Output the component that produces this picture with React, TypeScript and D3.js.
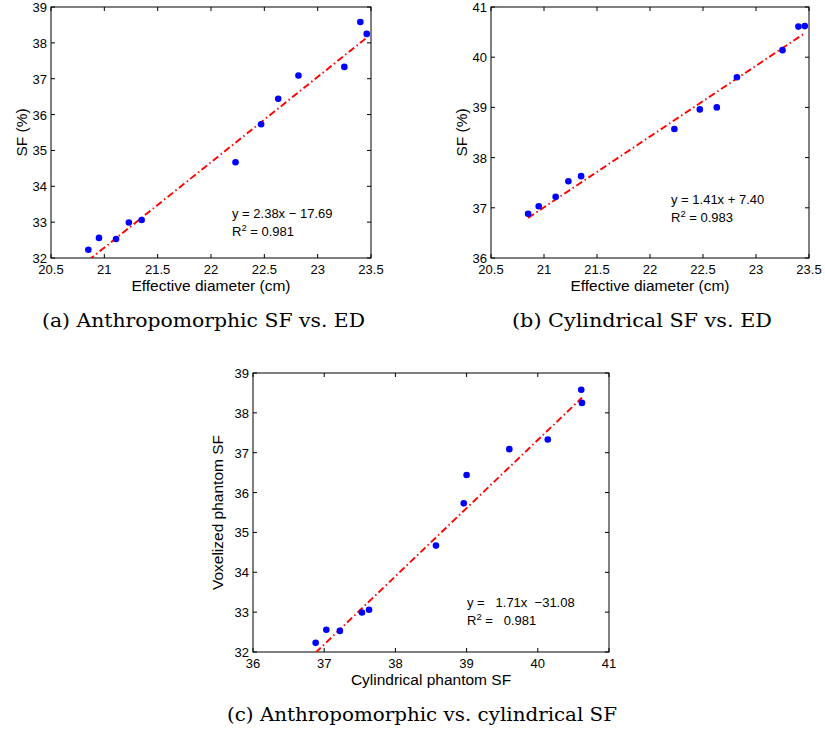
import React from "react";
import * as d3 from "d3";

// effective diameter (cm) of each phantom
const ED = [20.85, 20.95, 21.11, 21.23, 21.35, 22.23, 22.47, 22.63, 22.82, 23.25, 23.4, 23.46];
// scatter fraction (%) of the voxelized / anthropomorphic phantoms
const ANTHRO_SF = [32.23, 32.56, 32.53, 32.99, 33.06, 34.67, 35.73, 36.44, 37.09, 37.33, 38.58, 38.25];
// scatter fraction (%) of the cylindrical phantoms
const CYL_SF = [36.88, 37.03, 37.22, 37.53, 37.63, 38.57, 38.96, 39.0, 39.6, 40.14, 40.61, 40.62];

const ED_TICKS = [20.5, 21, 21.5, 22, 22.5, 23, 23.5];
const A_Y_TICKS = [32, 33, 34, 35, 36, 37, 38, 39];
const B_Y_TICKS = [36, 37, 38, 39, 40, 41];
const C_X_TICKS = [36, 37, 38, 39, 40, 41];

const FITS = {
  a: { slope: 2.38, intercept: -17.69 },
  b: { slope: 1.41, intercept: 7.4 },
  c: { slope: 1.71, intercept: -31.08 },
};

const SANS = "'Liberation Sans', Arial, Helvetica, sans-serif";
const SERIF = "'DejaVu Serif', 'Liberation Serif', serif";

type PanelProps = {
  id: string;
  left: number;
  top: number;
  width: number;
  height: number;
  xs: number[];
  ys: number[];
  xDomain: [number, number];
  yDomain: [number, number];
  xTicks: number[];
  yTicks: number[];
  xLabel: string;
  yLabel: string;
  yLabelX: number;
  fit: { slope: number; intercept: number };
  eq: string;
  r2: string;
  eqX: number;
  eqY: number;
};

function Panel(p: PanelProps) {
  const x = d3.scaleLinear().domain(p.xDomain).range([0, p.width]);
  const y = d3.scaleLinear().domain(p.yDomain).range([p.height, 0]);
  const x0 = d3.min(p.xs) as number;
  const x1 = d3.max(p.xs) as number;
  const fitLine = d3
    .line<number>()
    .x((d) => x(d))
    .y((d) => y(p.fit.slope * d + p.fit.intercept))([x0, x1]);
  const tick = 4;
  const fmt = (v: number) => String(v);

  return (
    <g transform={`translate(${p.left},${p.top})`}>
      <defs>
        <clipPath id={`clip-${p.id}`}>
          <rect x={0} y={0} width={p.width} height={p.height} />
        </clipPath>
      </defs>
      <rect x={0} y={0} width={p.width} height={p.height} fill="white" stroke="black" strokeWidth={1} />
      {p.xTicks.map((t) => (
        <g key={"x" + t}>
          <line x1={x(t)} x2={x(t)} y1={p.height} y2={p.height - tick} stroke="black" />
          <line x1={x(t)} x2={x(t)} y1={0} y2={tick} stroke="black" />
          <text x={x(t)} y={p.height + 16} textAnchor="middle" fontSize={13} fontFamily={SANS}>
            {fmt(t)}
          </text>
        </g>
      ))}
      {p.yTicks.map((t) => (
        <g key={"y" + t}>
          <line x1={0} x2={tick} y1={y(t)} y2={y(t)} stroke="black" />
          <line x1={p.width} x2={p.width - tick} y1={y(t)} y2={y(t)} stroke="black" />
          <text x={-4} y={y(t) + 5} textAnchor="end" fontSize={13} fontFamily={SANS}>
            {fmt(t)}
          </text>
        </g>
      ))}
      <g clipPath={`url(#clip-${p.id})`}>
        <path d={fitLine ?? ""} fill="none" stroke="#ff0000" strokeWidth={1.9} strokeDasharray="7,3,1.5,3" />
      </g>
      {p.xs.map((xv, i) => (
        <circle key={i} cx={x(xv)} cy={y(p.ys[i])} r={3.3} fill="#0000ff" />
      ))}
      <text x={p.width / 2} y={p.height + 33} textAnchor="middle" fontSize={15.5} fontFamily={SANS}>
        {p.xLabel}
      </text>
      <text
        transform={`translate(${p.yLabelX},${p.height / 2}) rotate(-90)`}
        textAnchor="middle"
        fontSize={15.5}
        fontFamily={SANS}
      >
        {p.yLabel}
      </text>
      <text x={p.eqX} y={p.eqY} fontSize={13} fontFamily={SANS} style={{ whiteSpace: "pre" }}>
        {p.eq}
      </text>
      <text x={p.eqX} y={p.eqY + 18} fontSize={13} fontFamily={SANS} style={{ whiteSpace: "pre" }}>
        R
        <tspan dy={-5} fontSize={9.5}>
          2
        </tspan>
        <tspan dy={5}>{p.r2}</tspan>
      </text>
    </g>
  );
}

export default function App() {
  return (
    <svg width={825} height={736} style={{ position: "absolute", left: 0, top: 0, background: "white" }}>
      <Panel
        id="a"
        left={51}
        top={7}
        width={320}
        height={251}
        xs={ED}
        ys={ANTHRO_SF}
        xDomain={[20.5, 23.5]}
        yDomain={[32, 39]}
        xTicks={ED_TICKS}
        yTicks={A_Y_TICKS}
        xLabel="Effective diameter (cm)"
        yLabel="SF (%)"
        yLabelX={-24}
        fit={FITS.a}
        eq="y = 2.38x − 17.69"
        r2=" = 0.981"
        eqX={181}
        eqY={211}
      />
      <Panel
        id="b"
        left={491}
        top={7}
        width={318}
        height={251}
        xs={ED}
        ys={CYL_SF}
        xDomain={[20.5, 23.5]}
        yDomain={[36, 41]}
        xTicks={ED_TICKS}
        yTicks={B_Y_TICKS}
        xLabel="Effective diameter (cm)"
        yLabel="SF (%)"
        yLabelX={-24}
        fit={FITS.b}
        eq="y = 1.41x + 7.40"
        r2=" = 0.983"
        eqX={180}
        eqY={197}
      />
      <Panel
        id="c"
        left={253}
        top={373}
        width={356}
        height={279}
        xs={CYL_SF}
        ys={ANTHRO_SF}
        xDomain={[36, 41]}
        yDomain={[32, 39]}
        xTicks={C_X_TICKS}
        yTicks={A_Y_TICKS}
        xLabel="Cylindrical phantom SF"
        yLabel="Voxelized phantom SF"
        yLabelX={-30}
        fit={FITS.c}
        eq="y =   1.71x  −31.08"
        r2=" =   0.981"
        eqX={214}
        eqY={234}
      />
      <text x={42} y={327} fontSize={19} fontFamily={SERIF} textLength={323} lengthAdjust="spacingAndGlyphs">
        (a) Anthropomorphic SF vs. ED
      </text>
      <text x={512} y={327} fontSize={19} fontFamily={SERIF} textLength={260} lengthAdjust="spacingAndGlyphs">
        (b) Cylindrical SF vs. ED
      </text>
      <text x={227} y={721} fontSize={19} fontFamily={SERIF} textLength={390} lengthAdjust="spacingAndGlyphs">
        (c) Anthropomorphic vs. cylindrical SF
      </text>
    </svg>
  );
}
